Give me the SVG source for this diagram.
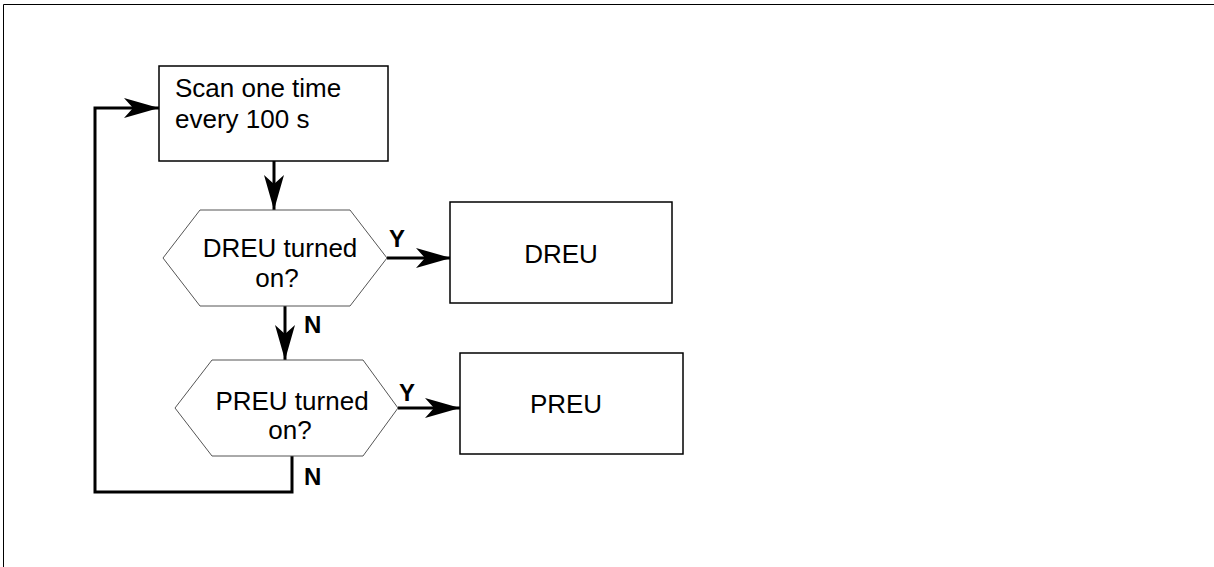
<svg xmlns="http://www.w3.org/2000/svg" width="1214" height="567" viewBox="0 0 1214 567">
<style>
.box{fill:#fff;stroke:#000;stroke-width:1.5}
.hex{fill:#fff;stroke:#555;stroke-width:1}
.txt{font-family:"Liberation Sans",Arial,sans-serif;font-size:26px;fill:#000}
.lbl{font-family:"Liberation Sans",Arial,sans-serif;font-size:24px;font-weight:bold;fill:#000}
.con{fill:none;stroke:#000;stroke-width:3}
</style>
<defs>
<marker id="arr" markerUnits="userSpaceOnUse" markerWidth="40" markerHeight="24" viewBox="-36 -12 40 24" refX="0" refY="0" orient="auto">
<path d="M0,0 L-35,-10 L-26,0 L-35,10 Z" fill="#000"/>
</marker>
</defs>
<rect width="1214" height="567" fill="#fff"/>
<path d="M3.5,567 V4.5 H1214" fill="none" stroke="#000" stroke-width="1"/>
<g id="connectors">
<path class="con" d="M274,161 V210" marker-end="url(#arr)"/>
<path class="con" d="M387,258 H451" marker-end="url(#arr)"/>
<path class="con" d="M285,306 V360" marker-end="url(#arr)"/>
<path class="con" d="M398,408 H460" marker-end="url(#arr)"/>
<path class="con" d="M292,456 V492 H95 V108 H159" marker-end="url(#arr)"/>
<text class="lbl" x="389" y="247">Y</text>
<text class="lbl" x="304" y="333">N</text>
<text class="lbl" x="399" y="401">Y</text>
<text class="lbl" x="304" y="485">N</text>
</g>
<g id="scan">
<rect class="box" x="159" y="66" width="229" height="95"/>
<text class="txt" x="175" y="97">Scan one time</text>
<text class="txt" x="175" y="128">every 100 s</text>
</g>
<g id="dreu-q">
<polygon class="hex" points="163,258 200,210 350,210 387,258 350,306 200,306"/>
<text class="txt" x="280" y="257" text-anchor="middle">DREU turned</text>
<text class="txt" x="277" y="287" text-anchor="middle">on?</text>
</g>
<g id="preu-q">
<polygon class="hex" points="175,408 212,360 363,360 398,408 363,456 212,456"/>
<text class="txt" x="292" y="410" text-anchor="middle">PREU turned</text>
<text class="txt" x="290" y="439" text-anchor="middle">on?</text>
</g>
<g id="dreu">
<rect class="box" x="450" y="202" width="222" height="101"/>
<text class="txt" x="561" y="263" text-anchor="middle">DREU</text>
</g>
<g id="preu">
<rect class="box" x="460" y="353" width="223" height="101"/>
<text class="txt" x="566" y="413" text-anchor="middle">PREU</text>
</g>
</svg>
